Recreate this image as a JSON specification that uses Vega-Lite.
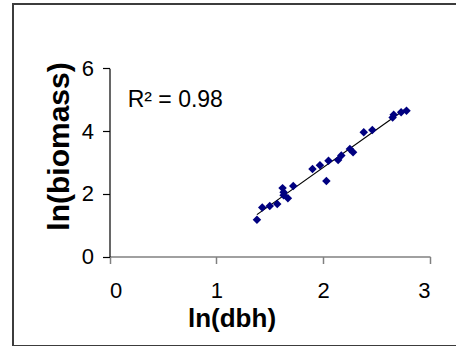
{
  "$schema": "https://vega.github.io/schema/vega-lite/v6.json",
  "autosize": "none",
  "padding": {"left": 13, "top": 4, "right": 0, "bottom": 0},
  "width": 445,
  "height": 342,
  "background": "white",
  "config": {
    "view": {"stroke": "#3c3c3c", "strokeWidth": 2},
    "font": "Liberation Sans",
    "axis": {"grid": false, "labelFont": "Liberation Sans", "titleFont": "Liberation Sans", "labelColor": "black", "titleColor": "black"}
  },
  "datasets": {
    "trees": [
      {"lndbh": 1.38, "lnbiomass": 1.17},
      {"lndbh": 1.43, "lnbiomass": 1.56},
      {"lndbh": 1.50, "lnbiomass": 1.61},
      {"lndbh": 1.57, "lnbiomass": 1.67},
      {"lndbh": 1.62, "lnbiomass": 2.18},
      {"lndbh": 1.63, "lnbiomass": 2.05},
      {"lndbh": 1.63, "lnbiomass": 1.95},
      {"lndbh": 1.67, "lnbiomass": 1.86},
      {"lndbh": 1.72, "lnbiomass": 2.25},
      {"lndbh": 1.90, "lnbiomass": 2.79},
      {"lndbh": 1.97, "lnbiomass": 2.91},
      {"lndbh": 2.03, "lnbiomass": 2.41},
      {"lndbh": 2.05, "lnbiomass": 3.05},
      {"lndbh": 2.14, "lnbiomass": 3.08},
      {"lndbh": 2.17, "lnbiomass": 3.22},
      {"lndbh": 2.25, "lnbiomass": 3.43},
      {"lndbh": 2.28, "lnbiomass": 3.32},
      {"lndbh": 2.38, "lnbiomass": 3.96},
      {"lndbh": 2.46, "lnbiomass": 4.03},
      {"lndbh": 2.65, "lnbiomass": 4.43},
      {"lndbh": 2.66, "lnbiomass": 4.52},
      {"lndbh": 2.73, "lnbiomass": 4.60},
      {"lndbh": 2.78, "lnbiomass": 4.65}
    ],
    "note": [
      {"lndbh": 0.17, "lnbiomass": 4.76, "label": "R² = 0.98"}
    ]
  },
  "layer": [
    {
      "data": {"name": "trees"},
      "transform": [{"regression": "lnbiomass", "on": "lndbh"}],
      "mark": {"type": "line", "color": "black", "strokeWidth": 1.2},
      "encoding": {
        "x": {"field": "lndbh", "type": "quantitative"},
        "y": {"field": "lnbiomass", "type": "quantitative"}
      }
    },
    {
      "data": {"name": "trees"},
      "mark": {"type": "point", "shape": "diamond", "filled": true, "color": "#000080", "opacity": 1, "size": 72},
      "encoding": {
        "x": {
          "field": "lndbh", "type": "quantitative",
          "scale": {"domain": [0, 3], "range": [96.5, 417], "nice": false, "zero": false},
          "axis": {
            "orient": "bottom", "offset": -89.5, "values": [0, 1, 2, 3], "format": "d",
            "title": "ln(dbh)", "titleFontSize": 26, "titleFontWeight": "bold",
            "titleX": 218.5, "titleY": 70, "titleBaseline": "alphabetic", "titleAnchor": "start", "titleAlign": "center",
            "labelFontSize": 22, "labelPadding": 17, "tickSize": 7,
            "domainColor": "#808080", "tickColor": "#808080", "domainWidth": 1.5, "tickWidth": 1.5
          }
        },
        "y": {
          "field": "lnbiomass", "type": "quantitative",
          "scale": {"domain": [0, 6], "range": [252.5, 64.3], "nice": false, "zero": false},
          "axis": {
            "orient": "left", "offset": -96.5, "values": [0, 2, 4, 6], "format": "d",
            "title": "ln(biomass)", "titleFontSize": 30, "titleFontWeight": "bold",
            "titleX": -41.5, "titleY": 142, "titleAngle": -90, "titleBaseline": "alphabetic", "titleAlign": "center",
            "labelFontSize": 22, "labelPadding": 9, "tickSize": 7, "labelBaseline": "middle",
            "domainColor": "black", "tickColor": "black", "domainWidth": 1.2, "tickWidth": 1.2
          }
        }
      }
    },
    {
      "data": {"name": "note"},
      "mark": {"type": "text", "align": "left", "baseline": "alphabetic", "fontSize": 23, "font": "Liberation Sans", "color": "black"},
      "encoding": {
        "x": {"field": "lndbh", "type": "quantitative"},
        "y": {"field": "lnbiomass", "type": "quantitative"},
        "text": {"field": "label"}
      }
    }
  ]
}
